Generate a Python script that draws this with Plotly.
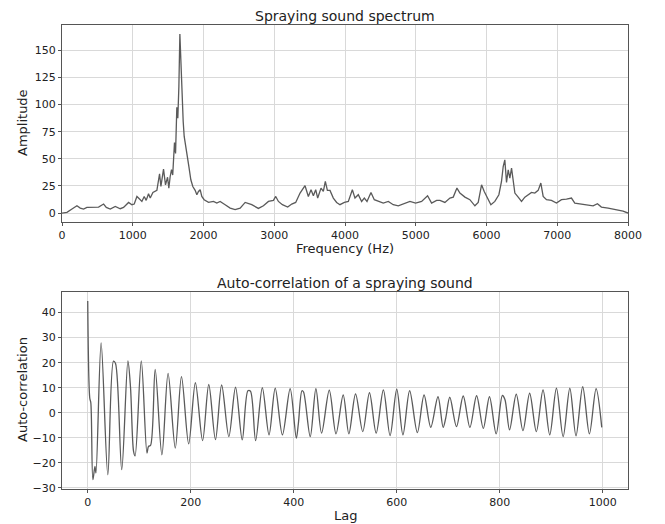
import plotly.graph_objects as go
from plotly.subplots import make_subplots

# spectrum (Hz, amplitude)
freq = [0, 70, 141, 211, 258, 305, 352, 447, 517, 588, 626, 682, 753, 823, 870, 941, 988,
        1021, 1059, 1096, 1129, 1162, 1190, 1223, 1247, 1285, 1341, 1379, 1398, 1435, 1463,
        1492, 1510, 1529, 1548, 1565, 1590, 1605, 1623, 1637, 1652, 1666, 1680, 1699, 1713,
        1727, 1746, 1765, 1793, 1821, 1849, 1882, 1906, 1929, 1953, 1976, 2009, 2071, 2141,
        2188, 2235, 2306, 2377, 2447, 2518, 2589, 2682, 2776, 2847, 2918, 2988, 3021, 3059,
        3115, 3190, 3247, 3303, 3365, 3435, 3482, 3520, 3553, 3586, 3614, 3661, 3694, 3722,
        3751, 3788, 3835, 3882, 3929, 3991, 4047, 4104, 4141, 4188, 4235, 4273, 4311, 4367,
        4414, 4471, 4541, 4612, 4682, 4753, 4824, 4918, 4998, 5083, 5167, 5224, 5295, 5342,
        5412, 5483, 5530, 5582, 5624, 5695, 5765, 5836, 5883, 5930, 5968, 6015, 6062, 6118,
        6175, 6212, 6236, 6259, 6283, 6307, 6330, 6354, 6377, 6401, 6448, 6495, 6542, 6589,
        6636, 6683, 6730, 6768, 6801, 6848, 6918, 6989, 7060, 7130, 7201, 7248, 7318, 7413,
        7507, 7568, 7624, 7719, 7836, 7930, 8000]
amplitude = [0, 0.6, 3.7, 6.7, 4.6, 3.7, 5.2, 5.2, 5.5, 8.3, 5.2, 3.7, 6.1, 4.0, 5.2, 9.8, 7.7,
             8.3, 15.3, 12.9, 10.7, 15.3, 11.7, 17.8, 13.8, 19, 20.9, 36.2, 24.5, 40.5, 26,
             33, 23, 33.7, 39.9, 35, 65, 55, 97.5, 87.4, 116.6, 165, 141, 95, 84.4,
             70.6, 61.3, 52, 43, 30.7, 24.5, 20.9, 16.9, 19.9, 21.5, 15.3, 12.3, 9.8, 10.7,
             9.2, 10.7, 7.7, 4.6, 3.1, 4.6, 9.8, 7.7, 4.3, 6.7, 10.7, 11.7, 15.3, 10.7,
             7.7, 5.5, 8.3, 9.8, 18.4, 25.2, 15.3, 21.5, 16, 21.5, 13.8, 23, 20, 29.1,
             20.9, 20.9, 13.8, 9.8, 7.7, 9.8, 10.7, 21.5, 13.8, 16.9, 10.7, 13.8, 10.7, 19,
             12.3, 10.7, 9.2, 10.7, 7.7, 6.7, 8.6, 10.7, 9.2, 10.7, 16, 9.2, 11.7, 11.7,
             9.8, 13.8, 14.7, 23, 18.4, 14.7, 12.3, 6.7, 9.8, 26, 19.9, 13.8, 7.7, 10.7,
             16.9, 29.1, 42.9, 49, 28.2, 39.9, 32.2, 41.4, 32.2, 18.4, 14.7, 10.7, 14.7, 16.9,
             19, 18.4, 20.9, 27.6, 15.3, 12.3, 11.7, 9.2, 12.3, 12.9, 13.8, 9.2, 8.6, 7.7,
             6.7, 8.6, 5.5, 4.6, 3.1, 1.8, 0]

# auto-correlation, peaks and troughs
lag = [0, 4, 6, 10, 14, 16, 26, 39, 50, 54, 66, 78, 83, 89, 92, 104, 115, 118, 122, 131,
       144, 156, 170, 182, 196, 209, 223, 235, 248, 260, 274, 287, 300, 311, 316, 326,
       339, 352, 364, 378, 393, 405, 409, 416, 419, 432, 443, 454, 469, 482, 496, 507,
       520, 534, 547, 560, 574, 587, 600, 612, 625, 640, 653, 666, 680, 690, 695, 703,
       716, 729, 742, 755, 768, 780, 793, 805, 810, 819, 832, 845, 858, 871, 884, 897,
       910, 923, 936, 948, 961, 974, 987, 998]
acorr = [44.6, 5.8, 4, -26.7, -21.4, -24, 27.9, -24.7, 20.6, 19.7, -22.7, 20.7, 10.4, -15.4,
         -17.2, 20.7, -16.1, -13.4, -13, 17.3, -16.8, 15.7, -14.1, 14.4, -12.4, 12, -11.1,
         11.3, -10.7, 11.1, -9.5, 10.2, -10.8, 8.8, 8.6, -11.1, 10, -8.8, 9.8, -8.8, 9.6,
         -10.1, -4.2, 8.8, 8.3, -9.5, 9.6, -8.1, 9.0, -8.4, 7.1, -8.4, 7.5, -7.5, 8.0,
         -8.1, 9.1, -9.1, 9.4, -8.8, 8.8, -7.9, 7.1, -5.8, 6.4, -5.8, -2.2, 6.2, -5.5,
         6.7, -5.8, 6.8, -6.2, 6.4, -8.4, 6.9, 5.3, -6.8, 7.4, -7.1, 7.8, -7.5, 9.1,
         -8.8, 9.8, -9.5, 9.8, -9.2, 10.4, -8.4, 9.6, -5.8]

font = "DejaVu Sans"
line_col = "#5a5a5a"
grid_col = "#d9d9d9"
spine_col = "#555555"

fig = make_subplots(rows=2, cols=1, vertical_spacing=0.15)
fig.add_trace(go.Scatter(x=freq, y=amplitude, mode="lines",
                         line=dict(color=line_col, width=1.3)), row=1, col=1)
fig.add_trace(go.Scatter(x=lag, y=acorr, mode="lines",
                         line=dict(color=line_col, width=1.3, shape="spline", smoothing=0.9)),
              row=2, col=1)

ax = dict(showgrid=True, gridcolor=grid_col, gridwidth=1, zeroline=False,
          showline=True, linecolor=spine_col, linewidth=1, mirror=True,
          ticks="outside", ticklen=3, tickcolor=spine_col,
          tickfont=dict(family=font, size=11, color="#222"))

fig.update_xaxes(ax)
fig.update_yaxes(ax)
fig.update_xaxes(range=[0, 8000], dtick=1000, row=1, col=1)
fig.update_yaxes(range=[-8.25, 173.25], dtick=25, row=1, col=1)
fig.update_xaxes(range=[-49.95, 1048.95], dtick=200, row=2, col=1)
fig.update_yaxes(range=[-30.4, 48.2], dtick=10, row=2, col=1)

# the page body has an 8px margin, so the figure is shrunk and shifted by that
fig.update_layout(
    width=657, height=516,
    margin=dict(l=54, r=37, t=17, b=35),
    showlegend=False,
    plot_bgcolor="white", paper_bgcolor="white",
    font=dict(family=font, color="#222"),
    xaxis=dict(domain=[0, 1]), yaxis=dict(domain=[0.5754, 1]),
    xaxis2=dict(domain=[0, 1]), yaxis2=dict(domain=[0, 0.4246]),
)

# titles and axis labels (screen pixel positions)
txt = [
    ("Spraying sound spectrum", 345, 16, 0, 14),
    ("Auto-correlation of a spraying sound", 345, 283, 0, 14),
    ("Frequency (Hz)", 345, 249, 0, 13),
    ("Lag", 345, 516, 0, 13),
    ("Amplitude", 23, 123, -90, 13),
    ("Auto-correlation", 22, 390, -90, 13),
]
for t, px, py, ang, sz in txt:
    fig.add_annotation(text=t, xref="paper", yref="paper",
                       x=(px - 62) / 566, y=(489 - py) / 464,
                       showarrow=False, textangle=ang,
                       xanchor="center", yanchor="middle",
                       font=dict(family=font, size=sz, color="#222"))

fig.write_html("out.html")
